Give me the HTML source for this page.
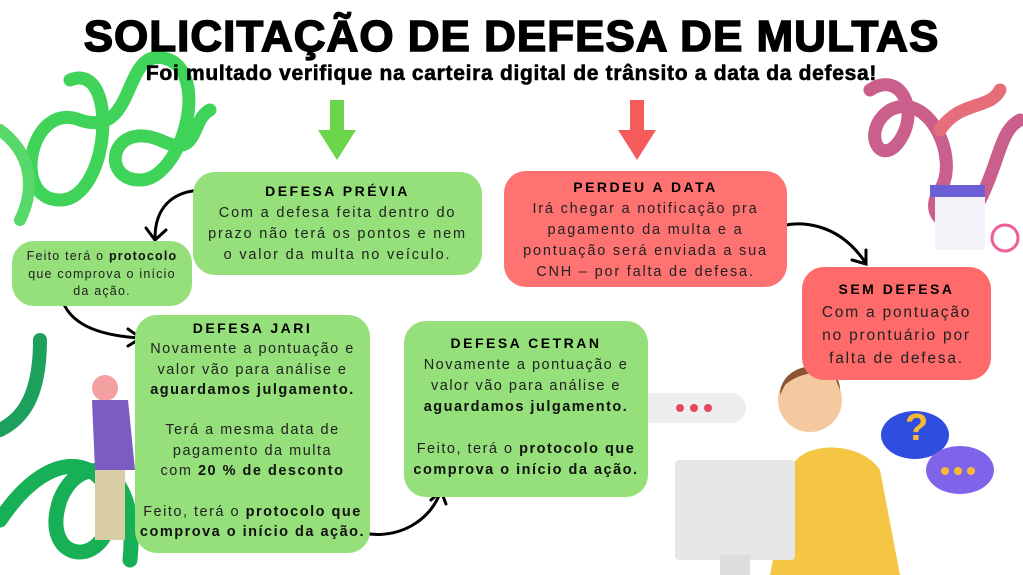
<!DOCTYPE html>
<html><head><meta charset="utf-8"><style>
body{margin:0;width:1023px;height:575px;overflow:hidden;background:#fff;position:relative;font-family:"Liberation Sans",sans-serif}
.t{position:absolute;left:0;width:1023px;text-align:center;top:12px;font-size:44px;font-weight:900;letter-spacing:1px;color:#000;-webkit-text-stroke:1.5px #000}
.s{position:absolute;left:0;width:1023px;text-align:center;top:62px;font-size:21px;font-weight:bold;color:#000;letter-spacing:0.7px;-webkit-text-stroke:0.6px #000}
.b{position:absolute;border-radius:22px;text-align:center;color:#222;font-size:14.5px;letter-spacing:1.8px;line-height:20.5px;box-sizing:border-box;white-space:nowrap}
.g{background:#95e07a}.r{background:#ff7272}
.h{font-weight:900;letter-spacing:2.5px;color:#000;font-size:14px}
b{color:#111}
svg{position:absolute;left:0;top:0}
</style></head><body>
<svg width="1023" height="575">
<g fill="none" stroke-linecap="round">
<path d="M70 80 C120 60,110 200,60 200 C10 200,30 100,80 120 C140 140,120 40,170 60 C210 80,180 180,140 180 C100 180,110 120,160 140 C200 160,190 120,210 110" stroke="#3fd35a" stroke-width="13"/>
<path d="M0 130 C40 160,30 200,20 220" stroke="#56d86a" stroke-width="12"/>
<path d="M40 340 C40 400,20 420,0 430" stroke="#1d9f5e" stroke-width="14"/>
<path d="M0 520 C60 430,120 470,110 520 C100 570,40 560,60 500 C80 450,140 460,130 560" stroke="#18b056" stroke-width="15"/>
<path d="M870 90 C900 70,920 110,900 140 C880 170,860 130,890 110 C930 90,960 160,940 190 C920 220,960 240,980 200 C1000 160,1000 130,1020 120" stroke="#c95f8a" stroke-width="13"/>
<path d="M940 130 C960 100,990 110,1000 90" stroke="#e66d7a" stroke-width="13"/>
</g>
<rect x="330" y="100" width="14" height="35" fill="#6cd64b"/><path d="M318 130 L356 130 L337 160 Z" fill="#6cd64b"/>
<rect x="630" y="100" width="14" height="35" fill="#f55b5b"/><path d="M618 130 L656 130 L637 160 Z" fill="#f55b5b"/>
<g fill="none" stroke="#000" stroke-width="3" stroke-linecap="round">
<path d="M205 190 C170 190,155 210,155 238"/><path d="M146 228 L155 240 L166 230"/>
<path d="M60 292 C65 320,90 335,140 338"/><path d="M128 329 L141 338 L128 346"/>
<path d="M362 533 C400 540,430 520,440 493"/><path d="M431 500 L441 491 L446 504"/>
<path d="M765 232 C800 215,840 225,865 262"/><path d="M852 260 L866 264 L866 250"/>
</g>
<rect x="935" y="190" width="50" height="60" rx="4" fill="#f2f2f8"/><rect x="930" y="185" width="55" height="12" fill="#6b5fd6"/>
<circle cx="1005" cy="238" r="13" fill="#fff" stroke="#ee5f9a" stroke-width="3"/>
<rect x="636" y="393" width="110" height="30" rx="15" fill="#eee"/>
<circle cx="680" cy="408" r="4" fill="#e04a5a"/><circle cx="694" cy="408" r="4" fill="#e04a5a"/><circle cx="708" cy="408" r="4" fill="#e04a5a"/>
<path d="M790 470 C800 440,860 440,880 470 L900 575 L770 575 Z" fill="#f5c544"/>
<circle cx="810" cy="400" r="32" fill="#f4c9a0"/><path d="M780 395 C780 360,840 355,840 390 L835 378 C820 370,800 372,785 385 Z" fill="#8a5530"/>
<rect x="675" y="460" width="120" height="100" rx="4" fill="#e6e6e6"/><rect x="720" y="555" width="30" height="20" fill="#ddd"/>
<ellipse cx="915" cy="435" rx="34" ry="24" fill="#2f4ee0"/><ellipse cx="960" cy="470" rx="34" ry="24" fill="#7f63e8"/>
<circle cx="945" cy="471" r="4" fill="#f7b935"/><circle cx="958" cy="471" r="4" fill="#f7b935"/><circle cx="971" cy="471" r="4" fill="#f7b935"/>
<text x="905" y="440" font-size="38" font-weight="bold" fill="#f7b935" font-family="Liberation Sans">?</text>
<circle cx="105" cy="388" r="13" fill="#f3a1a0"/><path d="M92 400 L128 400 L135 470 L95 470 Z" fill="#7a5cc2"/>
<rect x="95" y="470" width="30" height="70" fill="#d8cda5"/>
</svg>
<div class="t">SOLICITAÇÃO DE DEFESA DE MULTAS</div>
<div class="s">Foi multado verifique na carteira digital de trânsito a data da defesa!</div>
<div class="b g" style="left:193px;top:172px;width:289px;height:103px;padding-top:9px;line-height:21px"><span class="h">DEFESA PRÉVIA</span><br>Com a defesa feita dentro do<br>prazo não terá os pontos e nem<br>o valor da multa no veículo.</div>
<div class="b g" style="left:12px;top:241px;width:180px;height:65px;padding-top:7px;font-size:12.5px;line-height:17.5px;letter-spacing:1.2px">Feito terá o <b>protocolo</b><br>que comprova o início<br>da ação.</div>
<div class="b g" style="left:135px;top:315px;width:235px;height:238px;padding-top:3px;line-height:20.3px;letter-spacing:1.5px"><span class="h">DEFESA JARI</span><br>Novamente a pontuação e<br>valor vão para análise e<br><b>aguardamos julgamento.</b><br><br>Terá a mesma data de<br>pagamento da multa<br>com <b>20 % de desconto</b><br><br>Feito, terá o <b>protocolo que</b><br><b>comprova o início da ação.</b></div>
<div class="b g" style="left:404px;top:321px;width:244px;height:176px;padding-top:12px;line-height:21px;letter-spacing:1.5px"><span class="h">DEFESA CETRAN</span><br>Novamente a pontuação e<br>valor vão para análise e<br><b>aguardamos julgamento.</b><br><br>Feito, terá o <b>protocolo que</b><br><b>comprova o início da ação.</b></div>
<div class="b r" style="left:504px;top:171px;width:283px;height:116px;padding-top:6px;line-height:21px"><span class="h">PERDEU A DATA</span><br>Irá chegar a notificação pra<br>pagamento da multa e a<br>pontuação será enviada a sua<br>CNH – por falta de defesa.</div>
<div class="b" style="left:802px;top:267px;width:189px;height:113px;padding-top:11px;background:#ff6b6b;font-size:15.5px;line-height:23px"><span class="h">SEM DEFESA</span><br>Com a pontuação<br>no prontuário por<br>falta de defesa.</div>
</body></html>
